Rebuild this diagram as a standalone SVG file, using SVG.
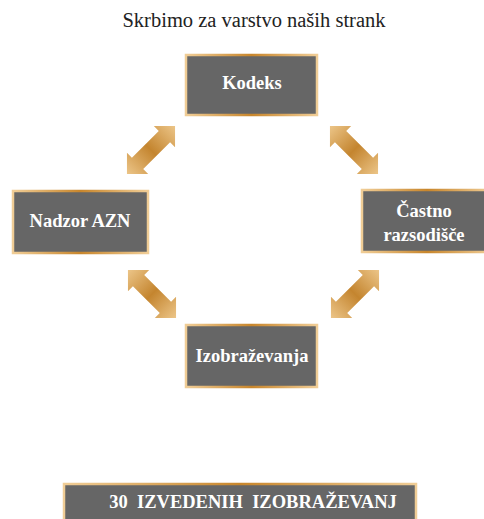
<svg xmlns="http://www.w3.org/2000/svg" width="484" height="519" viewBox="0 0 484 519">
<defs>
<linearGradient id="gold" x1="0" y1="0" x2="1" y2="0">
<stop offset="0" stop-color="#f0cd96"/>
<stop offset="0.5" stop-color="#c8862c"/>
<stop offset="1" stop-color="#f0cd96"/>
</linearGradient>
<linearGradient id="agold" x1="0" y1="0" x2="1" y2="0">
<stop offset="0" stop-color="#ecc588"/>
<stop offset="0.5" stop-color="#c4852f"/>
<stop offset="1" stop-color="#ecc588"/>
</linearGradient>
<path id="dbl" d="M-34,0 L-19,-15 L-19,-8 L19,-8 L19,-15 L34,0 L19,15 L19,8 L-19,8 L-19,15 Z"/>
</defs>
<style>
.box{fill:#666666;stroke:url(#gold);stroke-width:2.5}
.lbl{font-family:"Liberation Serif",serif;font-weight:bold;font-size:18.5px;fill:#ffffff;text-anchor:middle}
.title{font-family:"Liberation Serif",serif;font-size:20.5px;fill:#222222;text-anchor:middle}
.arr{fill:url(#agold)}
</style>
<rect width="484" height="519" fill="#ffffff"/>
<text class="title" x="254" y="27">Skrbimo za varstvo naših strank</text>
<g id="connectors">
<use href="#dbl" class="arr" transform="translate(151,150) rotate(-45)"/>
<use href="#dbl" class="arr" transform="translate(354,150) rotate(45)"/>
<use href="#dbl" class="arr" transform="translate(152,294) rotate(45)"/>
<use href="#dbl" class="arr" transform="translate(355,294) rotate(-45)"/>
</g>
<g id="kodeks">
<rect class="box" x="186" y="55" width="131" height="60"/>
<text class="lbl" x="252" y="89">Kodeks</text>
</g>
<g id="nadzor">
<rect class="box" x="13" y="191" width="135" height="62"/>
<text class="lbl" x="80" y="227">Nadzor AZN</text>
</g>
<g id="castno">
<rect class="box" x="362" y="190" width="130" height="62"/>
<text class="lbl" x="424" y="217">Častno</text>
<text class="lbl" x="424" y="241">razsodišče</text>
</g>
<g id="izobrazevanja">
<rect class="box" x="186" y="325" width="131" height="62"/>
<text class="lbl" x="252" y="362">Izobraževanja</text>
</g>
<g id="izvedenih">
<rect class="box" x="64" y="484" width="352" height="50"/>
<text class="lbl" x="253" y="508" xml:space="preserve">30  IZVEDENIH  IZOBRAŽEVANJ</text>
</g>
</svg>
